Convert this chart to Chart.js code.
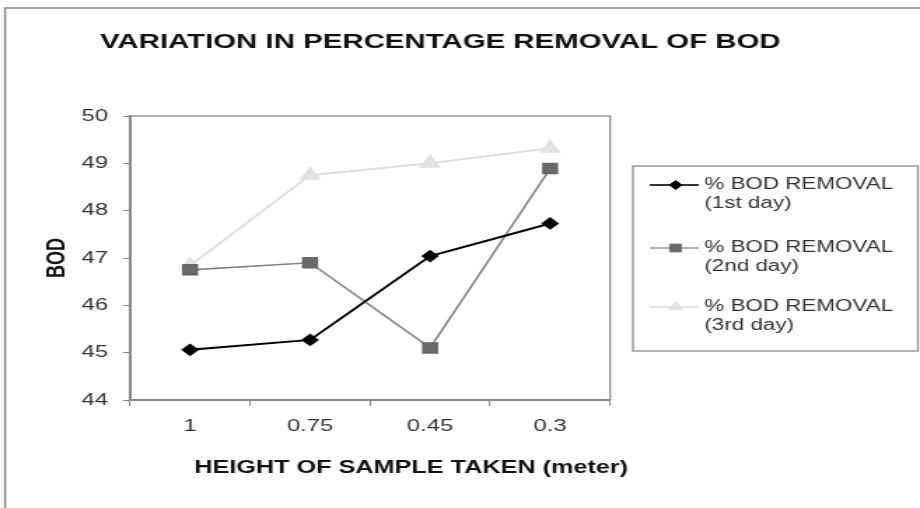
<!DOCTYPE html>
<html>
<head>
<meta charset="utf-8">
<script src="https://cdn.jsdelivr.net/npm/chart.js@4.4.0/dist/chart.umd.min.js"></script>
<style>
    html, body { margin: 0; padding: 0; background: #fff; }
</style>
</head>
<body>
<!-- the source picture is stretched sideways, so the canvas is drawn narrow and widened -->
<canvas id="chart" width="657" height="508" style="display:block;width:920px;height:508px"></canvas>
<script>
// --- DATA ---
const heights = ['1', '0.75', '0.45', '0.3'];
const day1 = [45.06, 45.27, 47.04, 47.73];
const day2 = [46.75, 46.90, 45.10, 48.89];
const day3 = [46.84, 48.75, 49.00, 49.32];
const seriesNames = ['% BOD REMOVAL (1st day)', '% BOD REMOVAL (2nd day)', '% BOD REMOVAL (3rd day)'];
const yTicks = [44, 45, 46, 47, 48, 49, 50];

const chartTitle = 'VARIATION IN PERCENTAGE REMOVAL OF BOD';
const xTitle = 'HEIGHT OF SAMPLE TAKEN (meter)';
const yTitle = 'BOD';

const FONT = '"Liberation Sans", Arial, sans-serif';
const W = 657;

// frame, plot box, titles and the two-line legend
const decorations = {
    id: 'decorations',
    beforeDraw(chart) {
        const ctx = chart.ctx;
        ctx.save();
        ctx.fillStyle = '#fff';
        ctx.fillRect(0, 0, W, 508);
        ctx.strokeStyle = '#8a8a8a';
        ctx.lineWidth = 1.5;
        ctx.beginPath();
        ctx.moveTo(3.6, 508);
        ctx.lineTo(3.6, 8);
        ctx.lineTo(W, 8);
        ctx.stroke();
        ctx.restore();
    },
    afterDraw(chart) {
        const ctx = chart.ctx;
        const a = chart.chartArea;
        ctx.save();

        // top and right edge of the plot box
        ctx.strokeStyle = '#999';
        ctx.lineWidth = 1.5;
        ctx.beginPath();
        ctx.moveTo(a.left, a.top);
        ctx.lineTo(a.right, a.top);
        ctx.lineTo(a.right, a.bottom);
        ctx.stroke();

        // main title
        ctx.fillStyle = '#111';
        ctx.font = 'bold 21px ' + FONT;
        ctx.textAlign = 'left';
        ctx.textBaseline = 'middle';
        ctx.fillText(chartTitle, 71.4, 42, 498);

        // x axis title
        ctx.font = 'bold 18px ' + FONT;
        ctx.textAlign = 'center';
        ctx.fillText(xTitle, 293.6, 468);

        // legend box
        ctx.strokeStyle = '#999';
        ctx.lineWidth = 1.5;
        ctx.strokeRect(452, 166, W - 1.5 - 452, 185);

        const rows = [185, 248, 307];
        ctx.font = '16px ' + FONT;
        ctx.textAlign = 'left';
        chart.data.datasets.forEach((ds, i) => {
            const y = rows[i];
            ctx.strokeStyle = ds.legendLine;
            ctx.lineWidth = ds.borderWidth;
            ctx.beginPath();
            ctx.moveTo(464, y);
            ctx.lineTo(499, y);
            ctx.stroke();

            ctx.fillStyle = ds.pointBackgroundColor;
            ctx.strokeStyle = ds.pointBorderColor;
            ctx.lineWidth = 1;
            Chart.helpers.drawPoint(ctx, {
                pointStyle: ds.pointStyle,
                radius: ds.legendRadius,
                rotation: 0,
                borderWidth: 1
            }, 482.5, y);

            const parts = ds.label.split(' (');
            ctx.fillStyle = '#333';
            ctx.fillText(parts[0], 503, y);
            ctx.fillText('(' + parts[1], 503, y + 18.5);
        });

        ctx.restore();
    }
};

const ctx = document.getElementById('chart').getContext('2d');

new Chart(ctx, {
    type: 'line',
    data: {
        labels: heights,
        datasets: [
            {
                label: seriesNames[0],
                data: day1,
                borderColor: '#000',
                borderWidth: 2,
                legendLine: '#333',
                pointStyle: 'rectRot',
                pointRadius: 5,
                legendRadius: 4.5,
                pointBackgroundColor: '#000',
                pointBorderColor: '#000',
                tension: 0
            },
            {
                label: seriesNames[1],
                data: day2,
                borderColor: '#858585',
                borderWidth: 1.6,
                legendLine: '#9a9a9a',
                pointStyle: 'rect',
                pointRadius: 7,
                legendRadius: 5.5,
                pointBackgroundColor: '#6a6a6a',
                pointBorderColor: '#666',
                tension: 0
            },
            {
                label: seriesNames[2],
                data: day3,
                borderColor: '#dedede',
                borderWidth: 2,
                legendLine: '#e2e2e2',
                pointStyle: 'triangle',
                pointRadius: 7,
                legendRadius: 5.5,
                pointBackgroundColor: '#e3e3e3',
                pointBorderColor: '#e0e0e0',
                tension: 0
            }
        ]
    },
    options: {
        responsive: false,
        animation: false,
        devicePixelRatio: 1,
        layout: {
            padding: { left: 0, top: 116, right: W - 435.7, bottom: 0 }
        },
        plugins: {
            legend: { display: false },
            title: { display: false },
            tooltip: { enabled: false }
        },
        scales: {
            x: {
                offset: true,
                afterFit(scale) { scale.height = 108; },
                grid: {
                    offset: true,
                    drawOnChartArea: false,
                    drawTicks: true,
                    tickLength: 6,
                    color: '#888'
                },
                border: { display: true, color: '#888', width: 2 },
                ticks: {
                    color: '#333',
                    padding: 10,
                    maxRotation: 0,
                    font: { family: FONT, size: 17 }
                }
            },
            y: {
                min: yTicks[0],
                max: yTicks[yTicks.length - 1],
                afterFit(scale) { scale.width = 92.9; },
                afterBuildTicks(scale) {
                    scale.ticks = yTicks.map(v => ({ value: v }));
                },
                grid: {
                    drawOnChartArea: false,
                    drawTicks: true,
                    tickLength: 5,
                    color: '#888'
                },
                border: { display: true, color: '#888', width: 2 },
                ticks: {
                    color: '#333',
                    padding: 10.8,
                    font: { family: FONT, size: 17 }
                },
                title: {
                    display: true,
                    text: yTitle,
                    color: '#111',
                    padding: { top: 30, bottom: 0 },
                    font: { family: FONT, size: 18, weight: 'bold' }
                }
            }
        }
    },
    plugins: [decorations]
});
</script>
</body>
</html>
